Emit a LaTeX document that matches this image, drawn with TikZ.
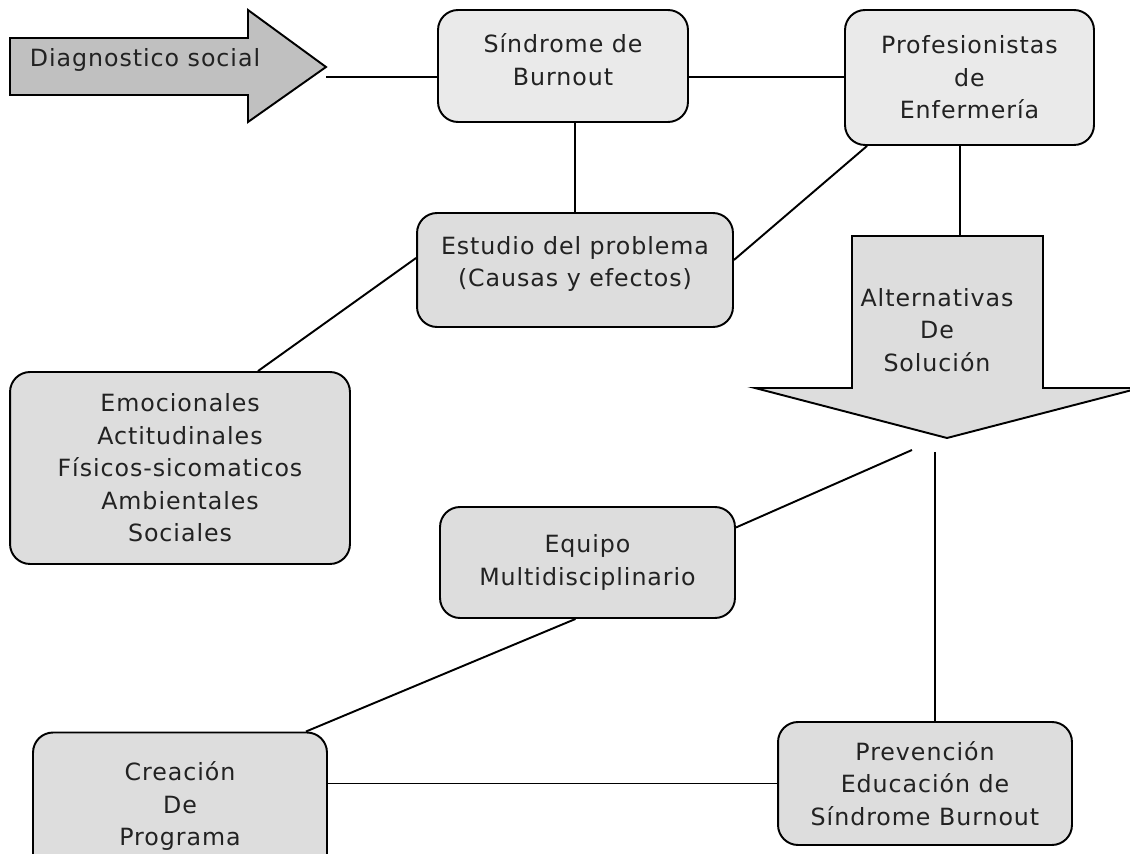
\documentclass[tikz,border=0pt]{standalone}
\usepackage{fontspec}
\setmainfont{DejaVu Sans}[LetterSpace=4]
\usepackage{xcolor}
\usetikzlibrary{calc, positioning}
\definecolor{boxgray}{HTML}{DDDDDD}
\definecolor{boxlight}{HTML}{EAEAEA}
\definecolor{arrowgray}{HTML}{C0C0C0}
\definecolor{inkgray}{HTML}{222222}

\begin{document}
\begin{tikzpicture}[x=0.02cm, y=-0.02cm, line width=1.1pt,
  box/.style={draw, rounded corners=0.4cm, fill=boxgray, align=center,
              text=inkgray, inner sep=0pt,
              font=\fontsize{13.5}{18.5}\selectfont},
  lightbox/.style={box, fill=boxlight},
  txt/.style={align=center, text=inkgray, inner sep=0pt,
              font=\fontsize{13.5}{18.5}\selectfont}]
  \useasboundingbox (0,0) rectangle (1130,854);
  \clip (0,0) rectangle (1130,854);

  % arrow on the left
  \filldraw[fill=arrowgray] (10,38) -- (248,38) -- (248,10) -- (326,67)
    -- (248,122) -- (248,95) -- (10,95) -- cycle;
  \node[txt] (diag) at (145,60) {Diagnostico social};
  \coordinate (diagend) at (326,77);

  % down arrow
  \filldraw[fill=boxgray] (852,236) -- (1043,236) -- (1043,388) -- (1140,388)
    -- (947,438) -- (755,388) -- (852,388) -- cycle;
  \node[txt] (alt) at (937,330) {Alternativas\\De\\Solución};
  \coordinate (alttop) at (960,236);
  \coordinate (altleft) at (912,450);
  \coordinate (altdown) at (935,452);

  % boxes
  \node[lightbox, minimum width=5cm, minimum height=2.24cm] (sind) at (563,66)
    {Síndrome de\\Burnout\\[-11pt]\mbox{}};
  \node[lightbox, minimum width=4.98cm, minimum height=2.7cm] (prof) at (969.5,77.5)
    {Profesionistas\\de\\Enfermería};
  \node[box, minimum width=6.32cm, minimum height=2.28cm] (estudio) at (575,270)
    {Estudio del problema\\(Causas y efectos)\\[-9pt]\mbox{}};
  \node[box, minimum width=6.8cm, minimum height=3.84cm] (emoc) at (180,468)
    {Emocionales\\Actitudinales\\Físicos-sicomaticos\\Ambientales\\Sociales};
  \node[box, minimum width=5.9cm, minimum height=2.22cm] (equipo) at (587.5,562.5)
    {Equipo\\Multidisciplinario};
  \node[box, minimum width=5.88cm, minimum height=2.94cm] (creacion) at (180,806)
    {Creación\\De\\Programa};
  \node[box, minimum width=5.88cm, minimum height=2.46cm] (prev) at (925,783.5)
    {Prevención\\Educación de\\Síndrome Burnout};

  % connectors
  \draw (diagend) -- (diagend -| sind.west);
  \draw (diagend -| sind.east) -- (diagend -| prof.west);
  \draw (sind.south -| estudio.north) -- (estudio.north);
  \draw ($(prof.south west)+(23,0)$) -- ($(estudio.east)+(0,-10)$);
  \draw (alttop |- prof.south) -- (alttop);
  \draw ($(estudio.west)+(0,-12)$) -- ($(emoc.north)+(78,0)$);
  \draw (altleft) -- ($(equipo.east)+(0,-35)$);
  \draw (altdown) -- (altdown |- prev.north);
  \draw ($(equipo.south)+(-12,0)$) -- ($(creacion.north east)+(-22,0)$);
  \draw (creacion.east |- prev.west) -- (prev.west);
\end{tikzpicture}
\end{document}
